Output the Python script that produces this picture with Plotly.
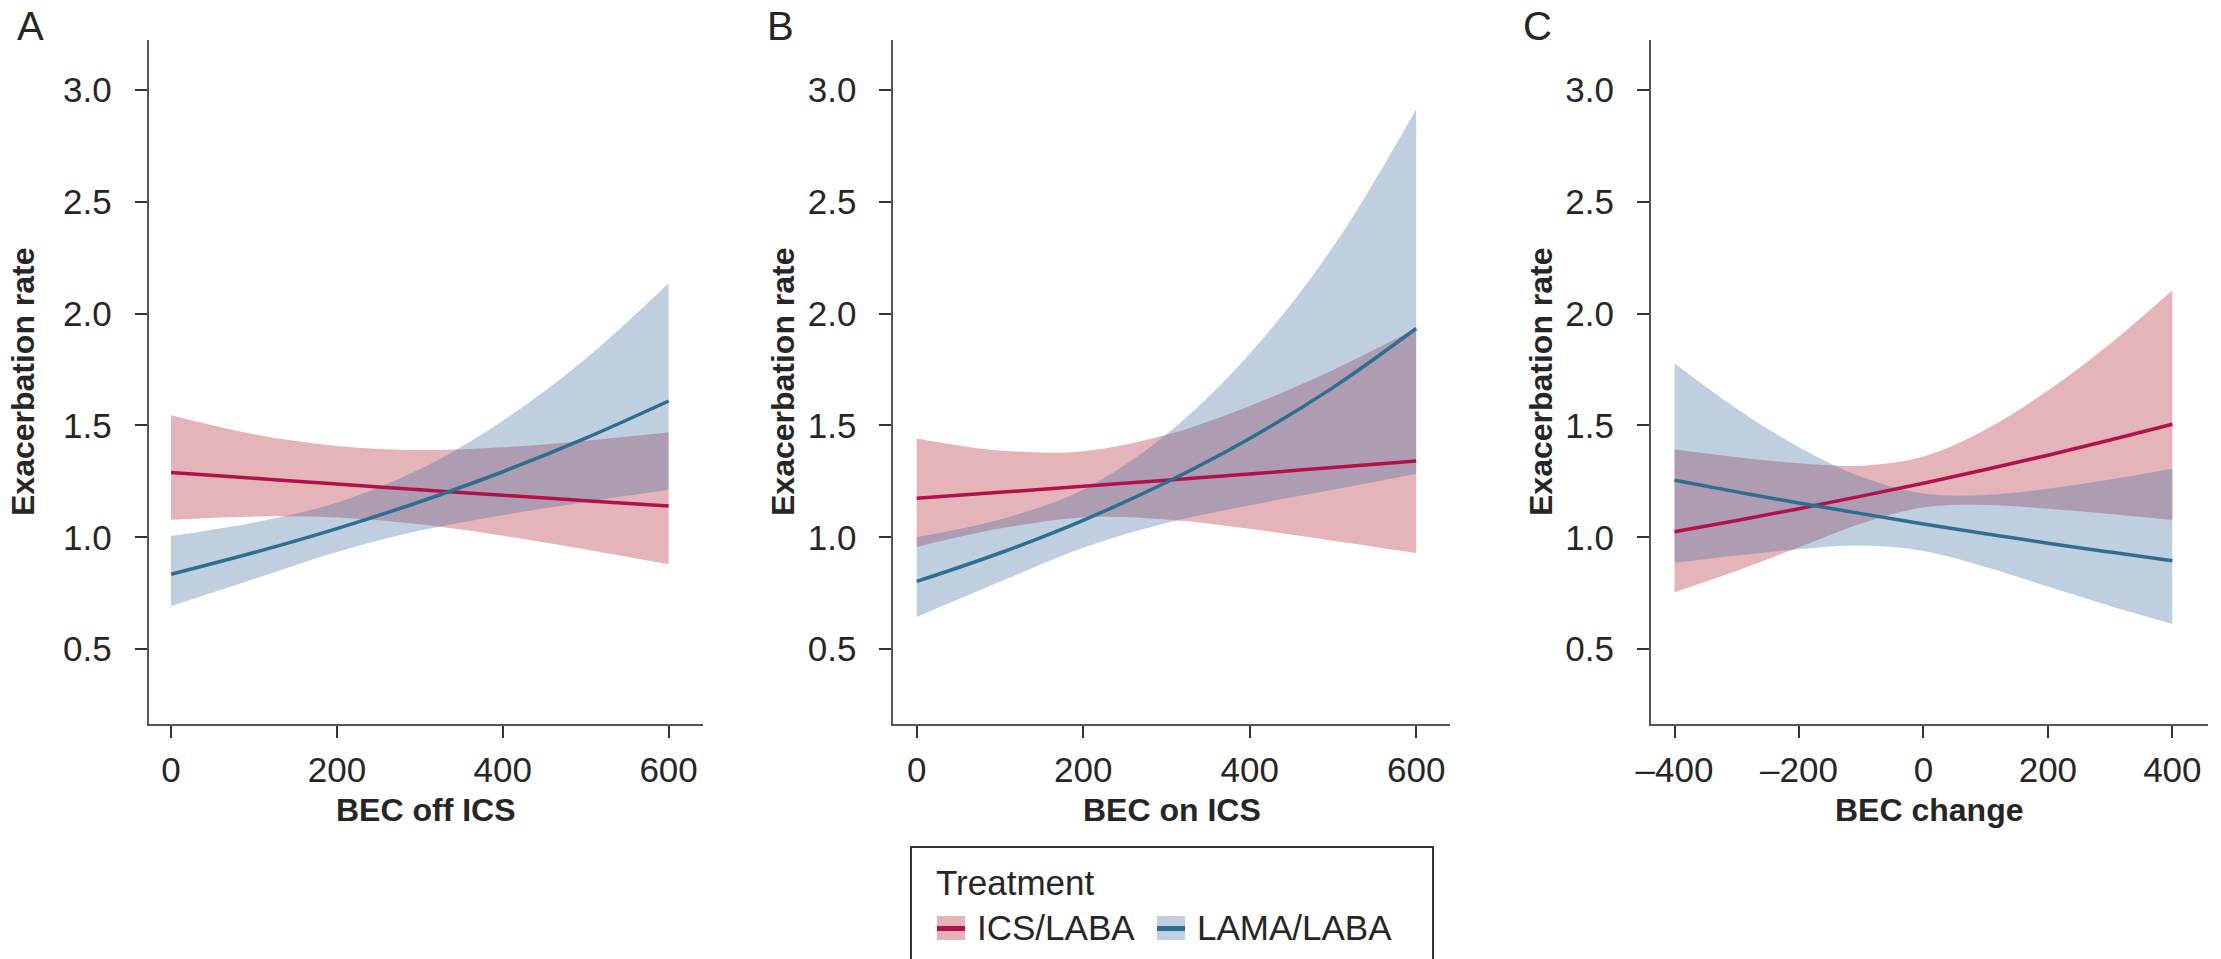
import plotly.graph_objects as go

W, H = 2221, 959

# Blood eosinophil counts (cells/µL) at which the model was evaluated
bec = [0, 100, 200, 300, 400, 500, 600]
bec_change = [-400, -300, -200, -100, 0, 100, 200, 300, 400]

# Panel A: BEC off ICS
a_ics_fit = [1.290, 1.264, 1.238, 1.213, 1.188, 1.164, 1.140]
a_ics_lo = [1.078, 1.093, 1.089, 1.058, 1.007, 0.946, 0.880]
a_ics_hi = [1.546, 1.461, 1.408, 1.390, 1.402, 1.432, 1.468]
a_lama_fit = [0.835, 0.932, 1.039, 1.159, 1.293, 1.443, 1.609]
a_lama_lo = [0.693, 0.814, 0.935, 1.030, 1.099, 1.158, 1.213]
a_lama_hi = [1.006, 1.066, 1.155, 1.304, 1.521, 1.798, 2.135]

# Panel B: BEC on ICS
b_ics_fit = [1.175, 1.201, 1.228, 1.255, 1.283, 1.312, 1.341]
b_ics_lo = [0.957, 1.039, 1.089, 1.080, 1.038, 0.985, 0.930]
b_ics_hi = [1.442, 1.388, 1.385, 1.458, 1.587, 1.748, 1.934]
b_lama_fit = [0.803, 0.930, 1.076, 1.246, 1.442, 1.669, 1.933]
b_lama_lo = [0.644, 0.801, 0.954, 1.064, 1.143, 1.213, 1.283]
b_lama_hi = [1.001, 1.080, 1.213, 1.460, 1.820, 2.297, 2.913]

# Panel C: BEC change
c_ics_fit = [1.025, 1.075, 1.128, 1.184, 1.242, 1.303, 1.367, 1.435, 1.505]
c_ics_lo = [0.755, 0.851, 0.956, 1.062, 1.134, 1.145, 1.128, 1.104, 1.077]
c_ics_hi = [1.392, 1.358, 1.331, 1.320, 1.361, 1.482, 1.656, 1.865, 2.104]
c_lama_fit = [1.255, 1.203, 1.153, 1.106, 1.060, 1.016, 0.974, 0.934, 0.895]
c_lama_lo = [0.886, 0.919, 0.947, 0.963, 0.939, 0.868, 0.780, 0.693, 0.613]
c_lama_hi = [1.777, 1.575, 1.403, 1.271, 1.196, 1.189, 1.217, 1.258, 1.306]

panel_letters = ["A", "B", "C"]
x_titles = ["BEC off ICS", "BEC on ICS", "BEC change"]
y_title = "Exacerbation rate"
treatments = ["ICS/LABA", "LAMA/LABA"]
y_ticks = [0.5, 1.0, 1.5, 2.0, 2.5, 3.0]
x_ticks_bec = [0, 200, 400, 600]
x_ticks_change = [-400, -200, 0, 200, 400]

LINE = {"ICS/LABA": "#B2124B", "LAMA/LABA": "#2F6E90"}
BAND = {"ICS/LABA": "rgba(181,38,56,0.35)", "LAMA/LABA": "rgba(72,118,164,0.35)"}
KEY_FILL = {"ICS/LABA": "#E5B3B8", "LAMA/LABA": "#BFCFDF"}
FONT = "Liberation Sans, Arial, sans-serif"
TXT = "#262626"
TICK_SIZE = 35
TITLE_SIZE = 32
LEGEND_SIZE = 35


def px(x):
    return x / W


def py(y):
    return 1 - y / H


panels = [
    dict(x=bec, series={"ICS/LABA": (a_ics_fit, a_ics_lo, a_ics_hi),
                        "LAMA/LABA": (a_lama_fit, a_lama_lo, a_lama_hi)},
         dom=(148.7, 702.6), rng=[-27, 641], ticks=x_ticks_bec, ytx=23),
    dict(x=bec, series={"ICS/LABA": (b_ics_fit, b_ics_lo, b_ics_hi),
                        "LAMA/LABA": (b_lama_fit, b_lama_lo, b_lama_hi)},
         dom=(893.4, 1450.3), rng=[-28, 641], ticks=x_ticks_bec, ytx=783),
    dict(x=bec_change, series={"ICS/LABA": (c_ics_fit, c_ics_lo, c_ics_hi),
                               "LAMA/LABA": (c_lama_fit, c_lama_lo, c_lama_hi)},
         dom=(1650.9, 2207.8), rng=[-438, 457], ticks=x_ticks_change, ytx=1541),
]
letter_x = [30, 780, 1537]

fig = go.Figure()
layout = {}
annotations = []
shapes = []
y_top, y_bot = 40, 724

for i, p in enumerate(panels):
    sfx = "" if i == 0 else str(i + 1)
    xa, ya = "x" + sfx, "y" + sfx
    # confidence bands first, then the fitted lines on top
    for t in treatments:
        fit, lo, hi = p["series"][t]
        fig.add_trace(go.Scatter(x=p["x"], y=lo, mode="lines", line=dict(width=0, shape="spline"),
                                 xaxis=xa, yaxis=ya, showlegend=False, hoverinfo="skip"))
        fig.add_trace(go.Scatter(x=p["x"], y=hi, mode="lines", line=dict(width=0, shape="spline"),
                                 fill="tonexty", fillcolor=BAND[t],
                                 xaxis=xa, yaxis=ya, showlegend=False, hoverinfo="skip"))
    for t in treatments:
        fit = p["series"][t][0]
        fig.add_trace(go.Scatter(x=p["x"], y=fit, mode="lines", name=t,
                                 line=dict(color=LINE[t], width=3.5, shape="spline"),
                                 xaxis=xa, yaxis=ya, showlegend=False))

    tick_text = [f"{v:d}".replace("-", "\u2013") for v in p["ticks"]]
    layout["xaxis" + sfx] = dict(
        domain=[px(p["dom"][0]), px(p["dom"][1])], range=p["rng"], anchor=ya,
        automargin=False,
        tickvals=p["ticks"], ticktext=tick_text, showgrid=False, zeroline=False,
        showline=True, linecolor="#555555", linewidth=2,
        ticks="outside", ticklen=12, tickwidth=2, tickcolor="#333333",
        tickfont=dict(family=FONT, size=TICK_SIZE, color=TXT), ticklabelstandoff=2)
    layout["yaxis" + sfx] = dict(
        domain=[py(y_bot), py(y_top)], range=[0.166, 3.222], anchor=xa,
        automargin=False,
        tickvals=y_ticks, ticktext=[f"{v:.1f}" for v in y_ticks],
        showgrid=False, zeroline=False,
        showline=True, linecolor="#555555", linewidth=2,
        ticks="outside", ticklen=12, tickwidth=2, tickcolor="#333333",
        tickfont=dict(family=FONT, size=TICK_SIZE, color=TXT), ticklabelstandoff=16)

    annotations.append(dict(text="<b>%s</b>" % x_titles[i], xref="paper", yref="paper",
                            x=px((p["dom"][0] + p["dom"][1]) / 2), y=py(810),
                            xanchor="center", yanchor="middle", showarrow=False,
                            font=dict(family=FONT, size=TITLE_SIZE, color=TXT)))
    annotations.append(dict(text="<b>%s</b>" % y_title, xref="paper", yref="paper",
                            x=px(p["ytx"]), y=py(382), textangle=-90,
                            xanchor="center", yanchor="middle", showarrow=False,
                            font=dict(family=FONT, size=TITLE_SIZE, color=TXT)))
    annotations.append(dict(text=panel_letters[i], xref="paper", yref="paper",
                            x=px(letter_x[i]), y=py(26),
                            xanchor="center", yanchor="middle", showarrow=False,
                            font=dict(family=FONT, size=40, color=TXT)))

# Legend box drawn at the bottom centre
shapes.append(dict(type="rect", xref="paper", yref="paper",
                   x0=px(911), x1=px(1433), y0=py(1010), y1=py(847),
                   line=dict(color="#333333", width=2), fillcolor="rgba(0,0,0,0)"))
annotations.append(dict(text="Treatment", xref="paper", yref="paper",
                        x=px(934), y=py(882), xanchor="left", yanchor="middle",
                        showarrow=False, font=dict(family=FONT, size=LEGEND_SIZE, color=TXT)))
key_x = {"ICS/LABA": 937, "LAMA/LABA": 1157}
for t in treatments:
    kx = key_x[t]
    shapes.append(dict(type="rect", xref="paper", yref="paper",
                       x0=px(kx), x1=px(kx + 28), y0=py(940), y1=py(916),
                       line=dict(width=0), fillcolor=KEY_FILL[t]))
    shapes.append(dict(type="line", xref="paper", yref="paper",
                       x0=px(kx), x1=px(kx + 28), y0=py(928.5), y1=py(928.5),
                       line=dict(color=LINE[t], width=5)))
    annotations.append(dict(text=t, xref="paper", yref="paper",
                            x=px(kx + 38), y=py(927), xanchor="left", yanchor="middle",
                            showarrow=False, font=dict(family=FONT, size=LEGEND_SIZE, color=TXT)))

fig.update_layout(width=W, height=H, margin=dict(l=0, r=0, t=0, b=0, autoexpand=False),
                  paper_bgcolor="white", plot_bgcolor="white",
                  annotations=annotations, shapes=shapes, showlegend=False,
                  **layout)

fig.write_html("out.html")
